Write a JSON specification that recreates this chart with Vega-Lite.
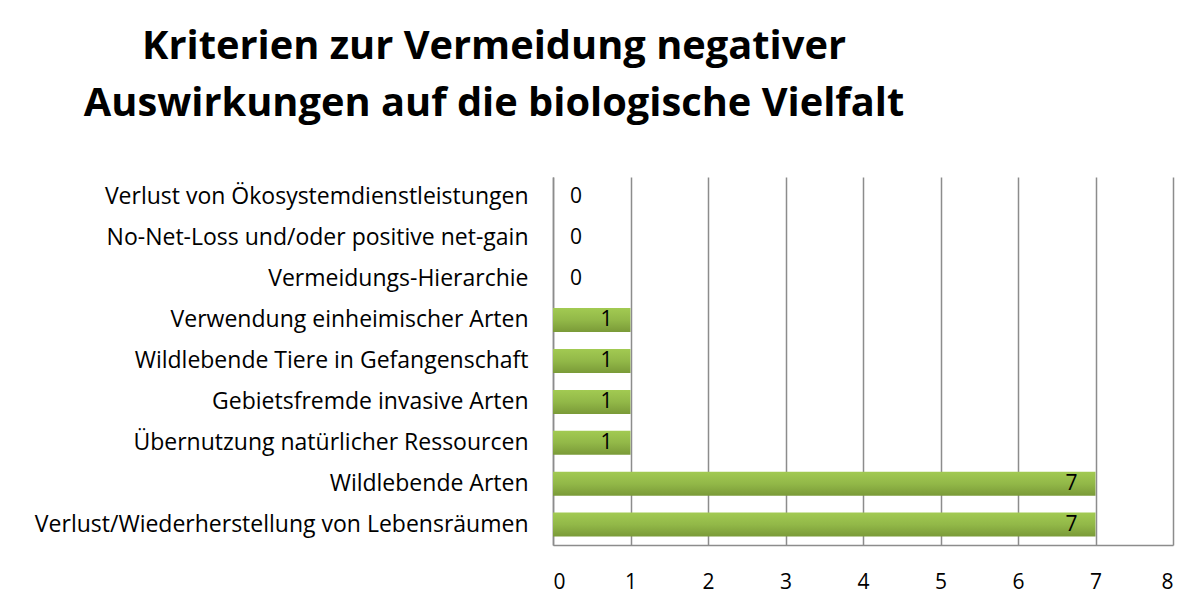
{
  "$schema": "https://vega.github.io/schema/vega-lite/v6.json",
  "autosize": {"type": "none"},
  "width": 620,
  "height": 368,
  "padding": {"left": 553, "top": 177, "right": 30, "bottom": 64},
  "background": "white",
  "title": {
    "text": ["Kriterien zur Vermeidung negativer", "Auswirkungen auf die biologische Vielfalt"],
    "anchor": "start",
    "frame": "group",
    "align": "center",
    "dx": -59,
    "offset": 13,
    "font": "Open Sans",
    "fontSize": 39.8,
    "fontWeight": "bold",
    "color": "black",
    "lineHeight": 57,
    "baseline": "bottom"
  },
  "data": {
    "values": [
      {"kriterium": "Verlust von Ökosystemdienstleistungen", "anzahl": 0},
      {"kriterium": "No-Net-Loss und/oder positive net-gain", "anzahl": 0},
      {"kriterium": "Vermeidungs-Hierarchie", "anzahl": 0},
      {"kriterium": "Verwendung einheimischer Arten", "anzahl": 1},
      {"kriterium": "Wildlebende Tiere in Gefangenschaft", "anzahl": 1},
      {"kriterium": "Gebietsfremde invasive Arten", "anzahl": 1},
      {"kriterium": "Übernutzung natürlicher Ressourcen", "anzahl": 1},
      {"kriterium": "Wildlebende Arten", "anzahl": 7},
      {"kriterium": "Verlust/Wiederherstellung von Lebensräumen", "anzahl": 7}
    ]
  },
  "encoding": {
    "y": {
      "field": "kriterium",
      "type": "nominal",
      "sort": null,
      "title": null,
      "axis": {
        "labelFont": "Open Sans",
        "labelFontSize": 23,
        "labelColor": "black",
        "labelPadding": 25,
        "labelLimit": 600,
        "ticks": false,
        "domainColor": "#8c8c8c",
        "domainWidth": 1.5
      }
    },
    "x": {
      "field": "anzahl",
      "type": "quantitative",
      "scale": {"domain": [0, 8], "nice": false},
      "title": null,
      "axis": {
        "values": [0, 1, 2, 3, 4, 5, 6, 7, 8],
        "grid": true,
        "gridColor": "#8c8c8c",
        "gridWidth": 1.5,
        "domainColor": "#8c8c8c",
        "domainWidth": 1.5,
        "ticks": false,
        "labelPadding": 26,
        "labelFont": "Open Sans",
        "labelFontSize": 21,
        "labelColor": "black"
      }
    }
  },
  "layer": [
    {
      "mark": {
        "type": "bar",
        "size": 24,
        "color": {
          "gradient": "linear",
          "x1": 0, "y1": 0, "x2": 0, "y2": 1,
          "stops": [
            {"offset": 0, "color": "#a2ca52"},
            {"offset": 0.5, "color": "#92b848"},
            {"offset": 1, "color": "#7a9a38"}
          ]
        }
      }
    },
    {
      "transform": [{"filter": "datum.anzahl > 0"}],
      "mark": {"type": "text", "align": "right", "baseline": "middle", "dx": -18, "font": "Open Sans", "fontSize": 21, "color": "black"},
      "encoding": {"text": {"field": "anzahl", "type": "quantitative"}}
    },
    {
      "transform": [{"filter": "datum.anzahl == 0"}],
      "mark": {"type": "text", "align": "left", "baseline": "middle", "dx": 17, "font": "Open Sans", "fontSize": 21, "color": "black"},
      "encoding": {"text": {"field": "anzahl", "type": "quantitative"}}
    }
  ],
  "config": {"view": {"stroke": null}}
}
